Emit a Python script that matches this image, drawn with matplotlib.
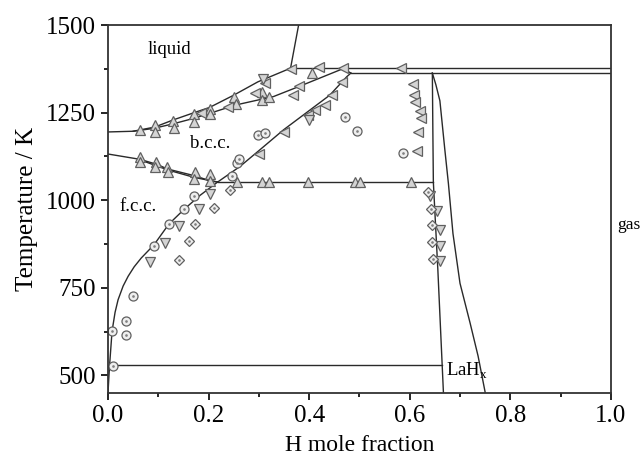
import matplotlib
matplotlib.use("Agg")
import matplotlib.pyplot as plt
import numpy as np

plt.rcParams['font.family'] = ['Liberation Serif', 'DejaVu Serif']
plt.rcParams['mathtext.fontset'] = 'custom'
plt.rcParams['mathtext.rm'] = 'Liberation Serif'

# phase boundaries (H mole fraction, T / K)
liq_x = [0.0, 0.05, 0.093, 0.129, 0.171, 0.202, 0.25, 0.298, 0.363, 0.379]
liq_T = [1195, 1197, 1209, 1229, 1250, 1265, 1300, 1338, 1377, 1500]

bcc_top_x = [0.05, 0.09, 0.129, 0.171, 0.202, 0.254, 0.329, 0.382, 0.468, 0.483]
bcc_top_T = [1197, 1205, 1218, 1234, 1248, 1272, 1296, 1326, 1376, 1363]

bcc_fcc_x = [0.0, 0.063, 0.096, 0.119, 0.172, 0.202, 0.218]
bcc_fcc_T = [1132, 1117, 1103, 1089, 1070, 1056, 1052]
bcc_fcc2_x = [0.07, 0.12, 0.172, 0.218]
bcc_fcc2_T = [1112, 1086, 1065, 1052]

fcc_x = [0.0, 0.003, 0.008, 0.014, 0.020, 0.030, 0.040, 0.052, 0.066, 0.0915, 0.121,
         0.152, 0.183, 0.218]
fcc_T = [452, 527, 626, 680, 716, 755, 783, 810, 835, 873, 932, 975, 1014, 1052]

bcc_solv_x = [0.218, 0.262, 0.302, 0.349, 0.402, 0.441, 0.475, 0.483]
bcc_solv_T = [1052, 1096, 1144, 1201, 1258, 1300, 1353, 1363]

lah_left_x = [0.645, 0.646, 0.647, 0.656, 0.667]
lah_left_T = [1363, 1200, 1052, 800, 452]
lah_right_x = [0.645, 0.652, 0.660, 0.670, 0.677, 0.686, 0.700, 0.720, 0.736, 0.750]
lah_right_T = [1363, 1330, 1284, 1142, 1047, 905, 763, 650, 555, 452]

# horizontal invariant lines: (T, x start, x end)
h_lines = [(1378, 0.365, 1.0), (1363, 0.483, 1.0), (1052, 0.218, 0.647), (531, 0.003, 0.664)]

# experimental points
up_x = [0.063, 0.093, 0.093, 0.129, 0.131, 0.171, 0.171, 0.202, 0.202, 0.250, 0.254,
        0.306, 0.306, 0.321, 0.405,
        0.063, 0.063, 0.096, 0.093, 0.118, 0.119, 0.172, 0.171, 0.202, 0.202,
        0.256, 0.307, 0.321, 0.398, 0.491, 0.502, 0.602]
up_T = [1201, 1215, 1196, 1227, 1206, 1246, 1222, 1260, 1246, 1296, 1275,
        1310, 1286, 1296, 1362,
        1123, 1110, 1109, 1096, 1095, 1082, 1082, 1060, 1075, 1054,
        1052, 1052, 1052, 1052, 1052, 1052, 1052]

left_x = [0.184, 0.239, 0.292, 0.312, 0.363, 0.419, 0.467, 0.380, 0.368, 0.465, 0.445,
          0.431, 0.412, 0.398, 0.349, 0.301, 0.582, 0.606, 0.608, 0.610, 0.620,
          0.622, 0.617, 0.615]
left_T = [1250, 1267, 1307, 1334, 1374, 1379, 1377, 1326, 1300, 1338, 1300,
          1272, 1258, 1244, 1196, 1132, 1377, 1332, 1300, 1281, 1256,
          1234, 1196, 1142]

down_x = [0.309, 0.400, 0.202, 0.180, 0.141, 0.114, 0.083, 0.640, 0.655, 0.660, 0.661, 0.661]
down_T = [1345, 1229, 1019, 976, 926, 878, 823, 1013, 968, 916, 870, 826]

circ_x = [0.299, 0.312, 0.471, 0.496, 0.587, 0.171, 0.152, 0.121, 0.0915, 0.050, 0.036,
          0.036, 0.008, 0.010, 0.246, 0.256, 0.261]
circ_T = [1187, 1193, 1237, 1199, 1134, 1013, 975, 932, 868, 728, 655,
          614, 626, 527, 1070, 1106, 1117]

diam_x = [0.243, 0.211, 0.172, 0.162, 0.1405, 0.636, 0.642, 0.645, 0.645, 0.647]
diam_T = [1029, 978, 932, 883, 830, 1025, 975, 930, 880, 832]


def main():
    fig = plt.figure(figsize=(6.43, 4.65), dpi=100)
    ax = fig.add_axes([0.168, 0.155, 0.782, 0.791])
    lc = '#2a2a2a'
    lw = 1.0
    for xs, ts in [(liq_x, liq_T), (bcc_top_x, bcc_top_T), (bcc_fcc_x, bcc_fcc_T),
                   (bcc_fcc2_x, bcc_fcc2_T), (fcc_x, fcc_T), (bcc_solv_x, bcc_solv_T),
                   (lah_left_x, lah_left_T), (lah_right_x, lah_right_T)]:
        ax.plot(xs, ts, color=lc, lw=lw)
    for t, x0, x1 in h_lines:
        ax.plot([x0, x1], [t, t], color=lc, lw=lw)

    mk = dict(linestyle='none', markerfacecolor='#d4d4d4', markeredgecolor='#606060',
              markeredgewidth=0.9)
    ax.plot(up_x, up_T, marker='^', markersize=7, **mk)
    ax.plot(left_x, left_T, marker='<', markersize=7, **mk)
    ax.plot(down_x, down_T, marker='v', markersize=7, **mk)
    ax.plot(circ_x, circ_T, marker='o', markersize=6.5,
            linestyle='none', markerfacecolor='#eeeeee', markeredgecolor='#606060',
            markeredgewidth=0.9)
    ax.plot(diam_x, diam_T, marker='D', markersize=5.5,
            linestyle='none', markerfacecolor='#eeeeee', markeredgecolor='#606060',
            markeredgewidth=0.9)
    ax.plot(circ_x + diam_x, circ_T + diam_T, linestyle='none', marker='.',
            markersize=1.8, color='#808080')

    ax.text(0.123, 1430, 'liquid', fontsize=13.5, ha='center', va='center')
    ax.text(0.203, 1161, 'b.c.c.', fontsize=13.5, ha='center', va='center')
    ax.text(0.060, 981, 'f.c.c.', fontsize=13.5, ha='center', va='center')
    ax.text(0.672, 512, r'LaH$_\mathregular{x}$', fontsize=13.5, ha='left', va='center')
    ax.text(1.012, 929, 'gas', fontsize=12.5, ha='left', va='center', clip_on=False)

    ax.set_xlim(0, 1.0)
    ax.set_ylim(450, 1500)
    ax.set_xticks(np.arange(0, 1.01, 0.2))
    ax.set_xticks(np.arange(0, 1.01, 0.1), minor=True)
    ax.set_yticks([500, 750, 1000, 1250, 1500])
    ax.set_yticks(np.arange(500, 1501, 125), minor=True)
    ax.tick_params(which='both', direction='out', top=False, right=False,
                   labelsize=18, width=1.2)
    ax.tick_params(which='major', length=5)
    ax.tick_params(which='minor', length=3)
    for s in ax.spines.values():
        s.set_linewidth(1.3)
        s.set_color('#333333')
    ax.set_xlabel('H mole fraction', fontsize=17, labelpad=6)
    ax.set_ylabel('Temperature / K', fontsize=18, labelpad=6)
    fig.savefig('out.png', dpi=100)


if __name__ == '__main__':
    main()
